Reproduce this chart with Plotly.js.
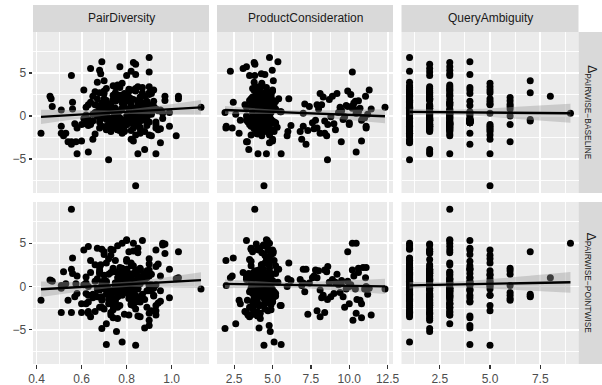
<!DOCTYPE html>
<html><head><meta charset="utf-8">
<script src="https://cdn.plot.ly/plotly-3.0.1.min.js"></script>
<style>html,body{margin:0;padding:0;background:#fff}#chart{width:602px;height:385px}</style>
</head><body><div id="chart"></div>
<script>
// ---------- data (one entry per query item) ----------
const facetNames = ["PairDiversity", "ProductConsideration", "QueryAmbiguity"];
const rowLabels = ["PAIRWISE\u2212BASELINE", "PAIRWISE\u2212POINTWISE"];

const pairDiversity = [
  // notable items
  .90,.69,.83,.84,.77,.64,.68,.82,.90,.685, .84,.80,.555,.84,.72,.58,.85,.93,.63,.88,
  .555,.54,.575,.60,.95,.65,.52,.80,.87,.96, .78,.97,.63,.67,.69,.73,.61,.83,.97,.56,
  .78,.71,.69,.71,.755,.88,.90,.90,.93,.555, .60,.51,.42,1.13,.86,.75,.51,.58,.62,.46,
  .465,.47,.51,.53,.57,.56,1.02,1.03,.99,.99, .79,.86,.72,.92,.68,.81,.75,.70,.87,.76,
  .83,1.03,
  // QA 1
  .74,.81,.66,.88,.77,.70,.92,.85,.63,.79, .72,.95,.68,.83,.76,.89,.61,.80,.73,.86,
  .69,.93,.78,.65,.84,.75,.91,.71,.82,.67, .87,.79,.74,.62,.90,.77,.85,.70,.94,.81,
  .64,.76,.88,.72,.83,
  // QA 2
  .75,.82,.68,.90,.79,.64,.86,.73,.95,.70, .84,.77,.66,.91,.80,.72,.87,.63,.78,.93,
  .69,.83,.76,.88,.71,.81,.67,.85,.74,.96, .79,.62,.89,.75,.82,
  // QA 3
  .76,.84,.70,.91,.65,.80,.73,.87,.78,.62, .94,.75,.83,.68,.89,.77,.71,.86,.79,.66,
  .92,.74,.81,.69,.85,.76,.63,.90,.72,.82,
  // QA 4
  .77,.84,.70,.91,.65,.80,.74,.88,.68,.83, .76,.93,.71,.79,.86,.63,.81,.73,.90,.67,
  .78,.85,
  // QA 5
  .78,.85,.71,.90,.66,.82,.75,.88,.69,.80, .93,.73,.84,.77,
  // core (QA 1-3)
  .71,.79,.86,.74,.82,.89,.77,.69,.84,.80, .73,.87,.76,.81,.70,.90,.78,.83,.75,.85,
  .72,.80,.88,.77,.68,.83,.79,.74,.91,.76, .81,.86,.73,.78,.84,.70,.89,.75,.82,.79
];

const productConsideration = [
  4.80,5.35,3.80,3.85,3.30,3.08,4.98,2.25,10.2,4.27, 4.50,3.50,3.84,4.44,8.58,4.05,4.60,5.56,10.45,3.45,
  7.18,3.36,9.48,10.8,4.80,5.00,8.53,3.30,4.66,10.45, 10.2,3.94,4.66,4.16,4.00,3.60,5.00,4.90,5.02,2.44,
  5.10,5.56,1.90,2.60,4.85,4.12,4.78,10.24,11.43,3.30, 3.84,8.40,2.82,12.33,8.10,1.96,1.98,2.37,2.90,4.20,
  3.70,9.90,4.50,3.95,4.70,5.20,4.30,3.70,7.00,4.90, 4.4,10.6,4.0,4.9,8.0,3.8,4.6,5.05,4.2,9.6,
  3.9,11.06,
  4.3,3.9,4.6,8.9,4.1,3.6,5.2,4.4,3.2,7.4, 4.8,4.0,10.6,3.7,4.5,9.7,4.2,5.4,3.4,7.9,
  4.7,3.9,4.9,11.2,4.1,3.5,5.95,4.4,6.9,3.8, 4.6,9.2,4.9,3.3,4.2,10.9,3.6,4.0,4.7,8.3,
  5.1,3.9,4.3,7.1,5.0,
  4.2,3.8,4.9,10.1,4.4,3.5,5.3,4.0,7.7,4.6, 3.9,9.5,4.3,4.7,3.3,11.0,4.1,5.0,4.5,8.6,
  3.7,4.8,4.2,6.8,4.0,9.9,4.6,3.6,5.5,4.4, 7.3,4.1,3.9,10.7,4.9,
  4.3,3.7,5.0,8.1,4.1,4.6,3.9,10.3,4.4,5.2, 4.0,7.0,4.8,3.5,4.2,9.0,4.5,3.8,6.0,4.0,
  11.3,4.7,3.6,8.8,4.3,5.1,4.4,3.9,10.0,4.5,
  4.2,3.8,4.9,9.3,4.4,3.6,10.8,4.6,4.0,5.2, 7.6,4.1,3.9,4.7,8.4,4.5,3.7,5.0,4.3,9.8,
  4.8,4.0,
  4.3,3.9,9.1,4.6,4.1,6.06,10.4,3.7,4.8,4.2, 7.9,4.5,3.6,11.1,
  4.1,3.8,4.5,4.9,3.6,4.3,4.0,4.7,3.9,4.4, 5.1,4.2,3.7,4.6,4.0,4.8,3.9,4.3,4.5,3.8,
  9.4,7.8,10.5,8.7,11.1,4.2,4.6,3.9,4.4,5.0, 4.1,3.7,4.8,4.3,6.2,4.5,4.0,3.6,8.2,10.0
];

const queryAmbiguity = [
  1,4,3,2,3,2,3,1,2,3, 4,2,3,5,1,2,3,5,2,2,
  4,6,1,1,1,5,3,4,3,9, 1,2,3,4,1,2,5,2,2,1,
  1,4,2,3,2,4,4,2,3,1, 2,1,1,1,1,1,1,2,2,1,
  2,1,3,1,2,1,1,2,1,3, 6,6,6,6,6,6,6,7,7,7,
  7,8,
  1,1,1,1,1,1,1,1,1,1, 1,1,1,1,1,1,1,1,1,1, 1,1,1,1,1,1,1,1,1,1, 1,1,1,1,1,1,1,1,1,1, 1,1,1,1,1,
  2,2,2,2,2,2,2,2,2,2, 2,2,2,2,2,2,2,2,2,2, 2,2,2,2,2,2,2,2,2,2, 2,2,2,2,2,
  3,3,3,3,3,3,3,3,3,3, 3,3,3,3,3,3,3,3,3,3, 3,3,3,3,3,3,3,3,3,3,
  4,4,4,4,4,4,4,4,4,4, 4,4,4,4,4,4,4,4,4,4, 4,4,
  5,5,5,5,5,5,5,5,5,5, 5,5,5,5,
  1,2,1,3,1,2,1,3,1,2, 1,2,3,1,2,1,3,1,2,1,
  1,2,1,3,1,2,1,1,3,2, 1,2,1,3,1,2,1,3,2,1
];

const deltaBaseline = [
  6.8,6.3,6.2,6.0,5.7,5.5,5.3,5.2,5.1,4.9, 4.8,4.7,4.7,-8.1,-5.1,-4.4,-4.4,-4.4,-4.2,-3.9,
  -3.3,-3.0,-3.0,-2.9,-3.1,-2.7,-2.3,-0.5,1.3,0.3, 0.9,2.3,-0.8,0.0,1.5,-1.2,3.0,1.9,1.8,1.6,
  -1.8,0.5,0.4,0.2,-0.3,-0.5,0.2,1.2,0.8,-3.0, -1.0,-2.0,-2.0,1.0,-2.0,-1.4,-1.2,-1.4,-0.5,2.3,
  2.0,1.1,0.7,-2.0,-0.9,0.8,-2.3,2.0,-1.2,0.4, 2.15,1.76,1.37,1.1,0.8,0.0,-1.0,4.1,2.7,-0.4,
  -0.6,2.3,
  // QA 1
  3.5,3.1,2.8,2.3,2.4,2.0,1.7,1.5,1.3,1.1, 0.9,0.7,0.5,0.3,0.1,-0.1,-0.3,2.0,-0.7,1.3,
  1.2,0.8,2.1,0.2,0.9,1.8,-2.3,0.5,-2.7,3.9, 3.3,2.6,1.9,1.0,0.4,-0.2,1.8,1.0,-1.6,2.2,
  1.6,2.4,0.6,1.4,-2.9,
  // QA 2
  3.4,3.0,2.7,2.5,-0.5,-1.0,-1.3,-0.7,-1.5,-0.2, 0.8,0.6,0.4,0.2,0.0,-0.2,-0.4,-0.6,-0.8,-1.0,
  -1.2,-1.4,-1.6,-1.8,3.2,2.9,2.0,1.1,0.5,-0.3, -1.7,0.1,-1.1,0.9,-0.4,
  // QA 3
  3.6,3.2,2.9,2.6,2.3,-1.0,-1.4,1.5,-1.6,-0.9, 0.6,0.3,0.0,-0.3,-0.6,-0.9,-1.2,-1.5,-1.8,-2.1,
  3.0,-1.3,-0.8,-0.1,-0.2,-0.7,-1.1,3.4,-1.0,-1.7,
  // QA 4
  3.3,3.0,2.6,0.4,-0.6,1.7,-0.5,-0.3,-0.7,-0.8, -0.8,-0.7,-0.4,-0.7,-0.6,-0.4,-0.6,-0.8,-0.7,1.2,
  -2.0,-0.8,
  // QA 5
  3.8,3.4,-1.6,2.7,1.3,2.0,1.7,1.4,0.3,-1.0, -1.4,-1.8,-2.2,-1.2,
  // core
  1.8,-1.2,0.6,2.4,-0.3,1.1,-1.7,0.2,2.9,-0.6, 1.4,0.0,-1.0,2.1,0.9,-2.2,1.6,-0.9,2.7,0.4,
  1.0,-0.5,0.7,1.9,-1.4,0.3,2.5,-0.2,1.2,-1.6, 0.8,2.2,-0.7,1.5,-1.1,0.5,1.7,-0.4,1.3,-0.8
];

const deltaPointwise = [
  1.2,0.5,-0.2,-1.0,0.8,1.6,-0.3,1.0,1.9,2.5, -1.8,3.1,8.9,-6.8,-1.5,-0.8,0.9,-2.2,-3.1,1.5,
  2.0,-1.6,0.3,-2.0,-0.5,-1.0,1.7,5.3,5.3,5.0, 5.0,4.9,4.6,4.4,4.3,4.3,4.2,4.1,3.8,3.3,
  -6.4,-6.7,-4.85,-4.3,-5.2,-4.8,-4.5,-3.9,-3.3,-3.0, -3.0,-3.0,-1.6,-0.3,-3.5,3.0,0.1,1.2,-2.0,0.75,
  0.7,0.6,-0.2,0.3,-1.2,1.5,0.9,4.0,2.0,-1.3, -0.7,2.1,1.4,-1.0,1.8,-1.4,0.1,4.0,-0.9,-1.2,
  -1.1,1.0,
  // QA 1
  2.1,-0.4,0.6,0.8,-2.2,1.3,-1.1,-0.3,-2.9,0.4, 3.2,-1.7,1.6,-0.8,4.7,-2.4,0.2,2.0,-3.3,1.0,
  -1.4,0.2,0.6,-0.9,1.9,-0.6,0.0,-0.1,0.1,0.9, -1.3,1.4,-2.7,1.1,-3.1,2.2,4.4,-0.2,2.6,-1.0,
  3.0,0.0,1.4,-0.6,0.5,
  // QA 2
  1.7,-2.1,1.5,0.2,0.3,-3.5,2.0,-0.9,1.2,0.6, -1.5,0.7,2.5,-2.8,1.0,-0.3,0.9,-1.8,0.1,2.3,
  -2.4,1.5,-3.7,0.8,-0.4,4.0,-1.2,-0.2,-2.2,4.8, -3.2,0.4,1.8,-1.6,1.3,
  // QA 3
  -1.1,-2.6,0.7,-0.4,-1.1,5.4,-3.0,1.2,-0.5,-0.8, -1.9,0.4,5.0,-2.4,1.6,-0.8,2.7,-1.4,0.9,-2.9,
  -0.2,4.2,-3.3,-1.2,3.9,-0.6,0.0,-0.5,-2.0,-2.0,
  // QA 4
  1.5,0.5,3.7,0.2,-1.3,2.9,-3.6,1.0,-0.4,2.4, 1.0,4.2,0.6,-0.5,1.9,-1.0,0.3,-1.7,0.1,-0.3,
  2.1,-3.4,
  // QA 5
  1.8,0.6,0.5,3.2,-1.0,2.7,-0.3,1.3,0.1,0.9, -2.8,3.6,1.4,0.0,
  // core
  -0.9,1.7,0.3,-2.1,2.4,-0.5,1.1,-1.6,0.6,2.0, -1.2,0.8,-2.4,1.5,-0.2,2.6,-1.0,0.1,-1.9,1.2,
  -0.7,1.9,-1.5,0.5,2.2,-2.2,0.9,-0.4,1.4,-1.1, 0.2,-1.8,1.6,-0.6,0.7,-2.6,1.0,0.4,-1.3,0.0
];

const xTickVals = [[0.4, 0.6, 0.8, 1.0], [2.5, 5.0, 7.5, 10.0, 12.5], [2.5, 5.0, 7.5]];
const xMinorVals = [[0.5, 0.7, 0.9, 1.1], [3.75, 6.25, 8.75, 11.25], [1.25, 3.75, 6.25, 8.75]];
const yTickVals = [-5, 0, 5];
const yMinorVals = [-7.5, -2.5, 2.5, 7.5];

// ---------- helpers ----------
const W = 602, H = 385;
const FONT = "Liberation Sans, Arial, Helvetica, sans-serif";
const colPx = [[33, 209], [217, 393], [401.5, 578.5]];
const rowPx = [[32, 193], [202, 364]];
const stripTop = [5, 32];
const stripRight = [578.5, 602];

function extent(a) { let mn = Infinity, mx = -Infinity; for (const v of a) { if (v < mn) mn = v; if (v > mx) mx = v; } return [mn, mx]; }
function expand(e) { const d = (e[1] - e[0]) * 0.05; return [e[0] - d, e[1] + d]; }

// linear model with 95% confidence band (like geom_smooth(method = "lm"))
function lmFit(xs, ys) {
  const n = Math.min(xs.length, ys.length);
  let sx = 0, sy = 0;
  for (let i = 0; i < n; i++) { sx += xs[i]; sy += ys[i]; }
  const mx = sx / n, my = sy / n;
  let sxx = 0, sxy = 0;
  for (let i = 0; i < n; i++) { sxx += (xs[i] - mx) ** 2; sxy += (xs[i] - mx) * (ys[i] - my); }
  const b = sxy / sxx, a = my - b * mx;
  let rss = 0;
  for (let i = 0; i < n; i++) { const r = ys[i] - (a + b * xs[i]); rss += r * r; }
  const s = Math.sqrt(rss / (n - 2));
  const t = 1.97;
  const ex = extent(xs.slice(0, n));
  const gx = [], gy = [], lo = [], hi = [];
  for (let i = 0; i < 80; i++) {
    const x = ex[0] + (ex[1] - ex[0]) * i / 79;
    const yh = a + b * x;
    const se = s * Math.sqrt(1 / n + (x - mx) ** 2 / sxx);
    gx.push(x); gy.push(yh); lo.push(yh - t * se); hi.push(yh + t * se);
  }
  return { gx, gy, lo, hi };
}

// ---------- build figure ----------
const cols = [pairDiversity, productConsideration, queryAmbiguity];
const rows = [deltaBaseline, deltaPointwise];
const yRange = expand(extent(deltaBaseline.concat(deltaPointwise)));

const traces = [];
const layout = {
  width: W, height: H,
  margin: { l: 0, r: 0, t: 0, b: 0 },
  paper_bgcolor: "#FFFFFF", plot_bgcolor: "#EBEBEB",
  showlegend: false,
  font: { family: FONT, size: 12, color: "#4D4D4D" },
  shapes: [], annotations: []
};

for (let r = 0; r < 2; r++) {
  for (let c = 0; c < 3; c++) {
    const k = r * 3 + c;
    const id = k === 0 ? "" : String(k + 1);
    const xs = cols[c], ys = rows[r];

    traces.push({
      type: "scatter", mode: "markers", x: xs, y: ys,
      xaxis: "x" + id, yaxis: "y" + id,
      marker: { color: "#000000", size: 7, line: { width: 0 } },
      hoverinfo: "skip"
    });
    const f = lmFit(xs, ys);
    traces.push({
      type: "scatter", mode: "lines",
      x: f.gx.concat(f.gx.slice().reverse()),
      y: f.hi.concat(f.lo.slice().reverse()),
      fill: "toself", fillcolor: "rgba(153,153,153,0.4)",
      line: { width: 0, color: "rgba(0,0,0,0)" },
      xaxis: "x" + id, yaxis: "y" + id, hoverinfo: "skip"
    });
    traces.push({
      type: "scatter", mode: "lines", x: f.gx, y: f.gy,
      line: { color: "#000000", width: 2.4 },
      xaxis: "x" + id, yaxis: "y" + id, hoverinfo: "skip"
    });

    layout["xaxis" + id] = {
      domain: [colPx[c][0] / W, colPx[c][1] / W],
      anchor: "y" + id,
      range: expand(extent(xs)),
      tickmode: "array", tickvals: xTickVals[c], tickformat: ".1f",
      showticklabels: r === 1, ticks: r === 1 ? "outside" : "",
      ticklen: 3.5, tickwidth: 1.2, tickcolor: "#333333",
      tickfont: { family: FONT, size: 12, color: "#4D4D4D" },
      showgrid: true, gridcolor: "#FFFFFF", gridwidth: 1.9,
      minor: { tickmode: "array", tickvals: xMinorVals[c], showgrid: true, gridcolor: "#FFFFFF", gridwidth: 0.9, ticks: "" },
      zeroline: false, showline: false, automargin: false, fixedrange: true
    };
    layout["yaxis" + id] = {
      domain: [1 - rowPx[r][1] / H, 1 - rowPx[r][0] / H],
      anchor: "x" + id,
      range: yRange,
      tickmode: "array", tickvals: yTickVals, tickformat: "d",
      showticklabels: c === 0, ticks: c === 0 ? "outside" : "",
      ticklen: 3.5, tickwidth: 1.2, tickcolor: "#333333",
      tickfont: { family: FONT, size: 12, color: "#4D4D4D" },
      showgrid: true, gridcolor: "#FFFFFF", gridwidth: 1.9,
      minor: { tickmode: "array", tickvals: yMinorVals, showgrid: true, gridcolor: "#FFFFFF", gridwidth: 0.9, ticks: "" },
      zeroline: false, showline: false, automargin: false, fixedrange: true
    };
  }
}

// facet strips (top)
for (let c = 0; c < 3; c++) {
  layout.shapes.push({
    type: "rect", xref: "paper", yref: "paper", layer: "below",
    x0: colPx[c][0] / W, x1: colPx[c][1] / W,
    y0: 1 - stripTop[1] / H, y1: 1 - stripTop[0] / H,
    fillcolor: "#D9D9D9", line: { width: 0 }
  });
  layout.annotations.push({
    xref: "paper", yref: "paper",
    x: (colPx[c][0] + colPx[c][1]) / 2 / W, y: 1 - (stripTop[0] + stripTop[1]) / 2 / H,
    text: facetNames[c], showarrow: false, xanchor: "center", yanchor: "middle",
    font: { family: FONT, size: 12, color: "#1A1A1A" }
  });
}
// facet strips (right)
for (let r = 0; r < 2; r++) {
  layout.shapes.push({
    type: "rect", xref: "paper", yref: "paper", layer: "below",
    x0: stripRight[0] / W, x1: stripRight[1] / W,
    y0: 1 - rowPx[r][1] / H, y1: 1 - rowPx[r][0] / H,
    fillcolor: "#D9D9D9", line: { width: 0 }
  });
  layout.annotations.push({
    xref: "paper", yref: "paper",
    x: (stripRight[0] + stripRight[1]) / 2 / W, y: 1 - (rowPx[r][0] + rowPx[r][1]) / 2 / H,
    text: "\u0394<sub>" + rowLabels[r] + "</sub>", textangle: 90,
    showarrow: false, xanchor: "center", yanchor: "middle",
    font: { family: FONT, size: 12, color: "#1A1A1A" }
  });
}

Plotly.newPlot("chart", traces, layout, { displayModeBar: false, staticPlot: true });
</script>
</body></html>
